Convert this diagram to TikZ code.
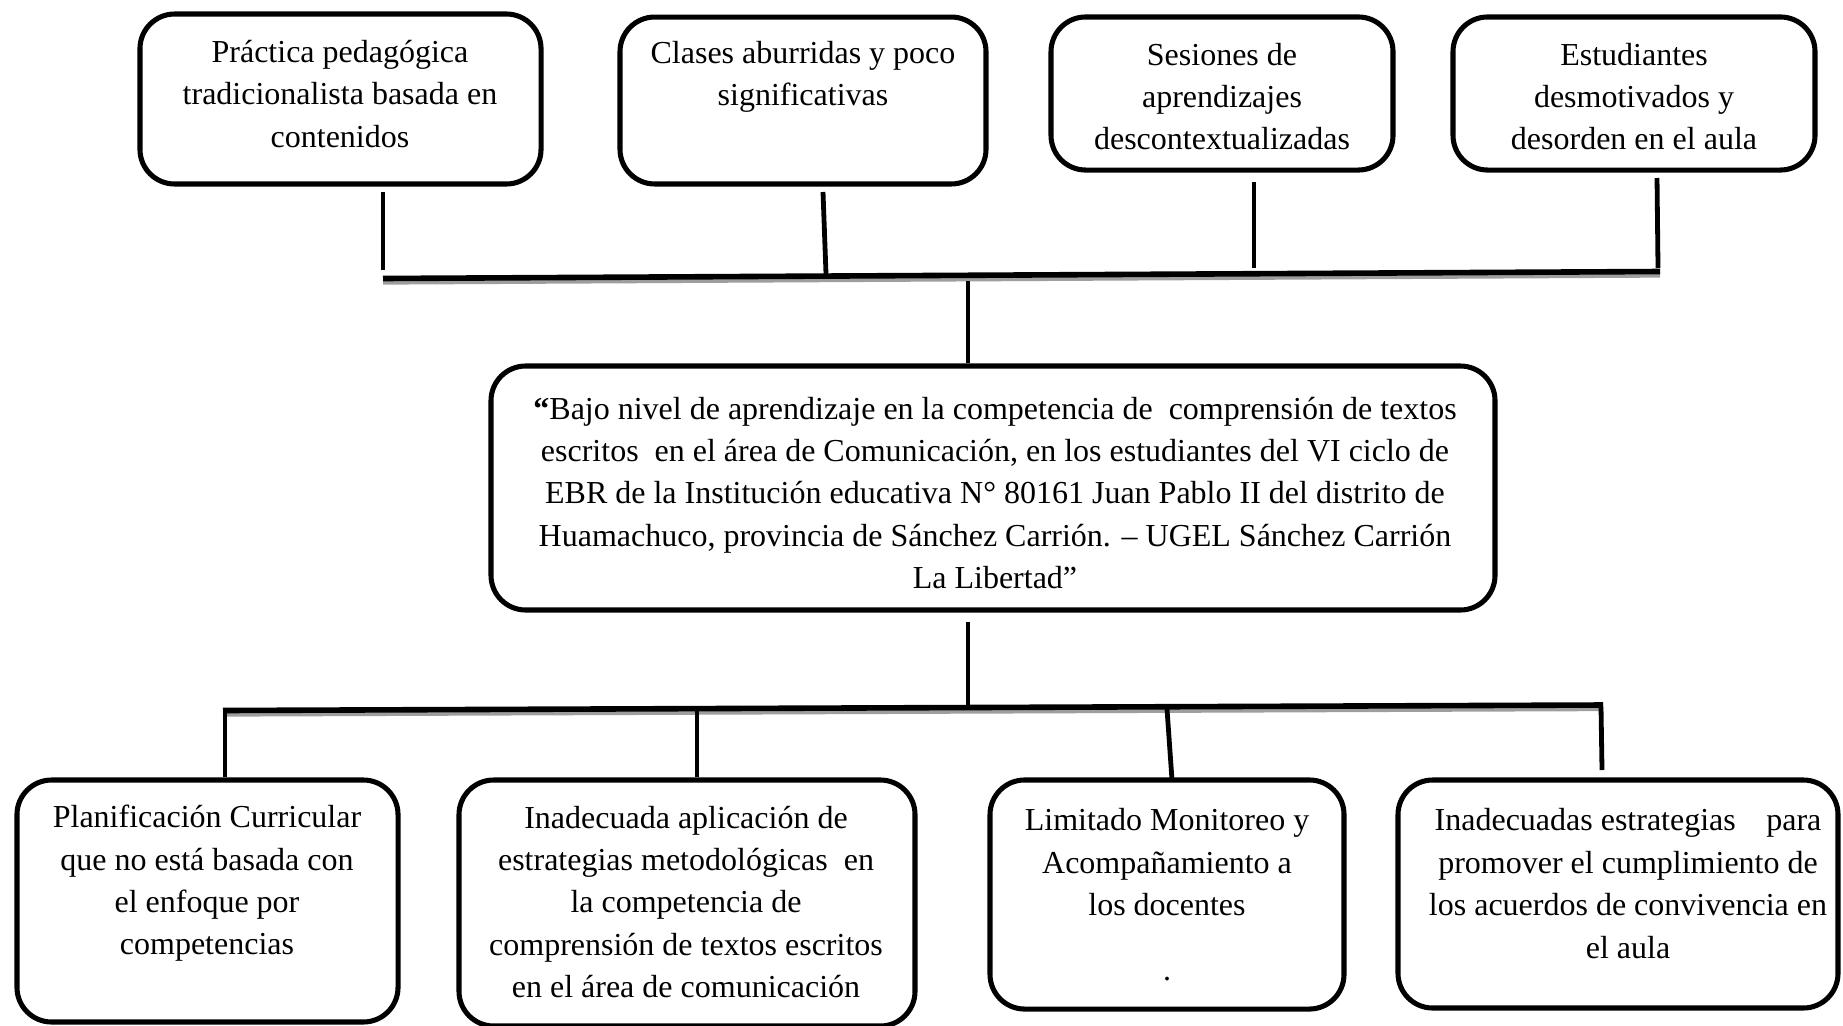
\documentclass[tikz,border=0pt]{standalone}
\usepackage{fontspec}
\setmainfont{Liberation Serif}
\begin{document}
\begin{tikzpicture}[x=0.375pt,y=-0.375pt,
 box/.style={draw=black,line width=1.9pt,rounded corners=13pt,inner sep=0pt},
 txt/.style={inner sep=0pt,align=center,font=\fontsize{12}{15.9}\selectfont},
 conn/.style={line width=1.8pt,black},
 bus/.style={line width=2.1pt,black},
 busshadow/.style={line width=2.2pt,black!38}]
\useasboundingbox (0,0) rectangle (1843,1025);

% top boxes
\node[box,minimum width=150.4pt,minimum height=63.75pt] (t1) at (340.5,99) {};
\node[box,minimum width=137.25pt,minimum height=62.6pt] (t2) at (803,100.5) {};
\node[box,minimum width=128.25pt,minimum height=57.4pt] (t3) at (1222,93.5) {};
\node[box,minimum width=135.75pt,minimum height=57.4pt] (t4) at (1634,93.5) {};
\node[txt] (t1txt) at (340,94) {Práctica pedagógica\\tradicionalista basada en\\contenidos};
\node[txt] (t2txt) at (803,77) {Clases aburridas y poco\\significativas};
\node[txt] (t3txt) at (1222,96.5) {Sesiones de\\aprendizajes\\descontextualizadas};
\node[txt] (t4txt) at (1634,96.5) {Estudiantes\\desmotivados y\\desorden en el aula};

% central box
\node[box,minimum width=376.5pt,minimum height=91.5pt] (c) at (993,488) {};
\node[txt] (ctxt) at (995,493) {\textbf{“}Bajo nivel de aprendizaje en la competencia de\ \ comprensión de textos\\escritos\ \ en el área de Comunicación, en los estudiantes del VI ciclo de\\EBR de la Institución educativa N° 80161 Juan Pablo II del distrito de\\Huamachuco, provincia de Sánchez Carrión. – UGEL Sánchez Carrión\\La Libertad”};

% bottom boxes
\node[box,minimum width=142.9pt,minimum height=90.75pt] (b1) at (207.5,901) {};
\node[box,minimum width=171pt,minimum height=92.25pt] (b2) at (687,903) {};
\node[box,minimum width=132.75pt,minimum height=85.9pt] (b3) at (1167,894.5) {};
\node[box,minimum width=165pt,minimum height=85.5pt] (b4) at (1618,894) {};
\node[txt] (b1txt) at (207,883.5) {Planificación Curricular\\que no está basada con\\el enfoque por\\competencias};
\node[txt] (b2txt) at (686,902) {Inadecuada aplicación de\\estrategias metodológicas\ \ en\\la competencia de\\comprensión de textos escritos\\en el área de comunicación};
\node[txt] (b3txt) at (1167,895) {Limitado Monitoreo y\\Acompañamiento a\\los docentes\\[8.6pt].};
\node[txt] (b4txt) at (1628,883.5) {\makebox[145pt]{Inadecuadas estrategias\hfill para}\\promover el cumplimiento de\\los acuerdos de convivencia en\\el aula};

% top bus
\coordinate (tbl) at (383,278.5);
\coordinate (tbr) at (1660,271.5);
\draw[busshadow] ([yshift=-1.2pt]tbl) -- ([yshift=-1.2pt]tbr);
\draw[bus] (tbl) -- (tbr);
\coordinate (u1a) at (383,192);  \coordinate (u1b) at (383,270);
\coordinate (u2a) at (823,192);  \coordinate (u2b) at (826,274);
\coordinate (u3a) at (1254,182); \coordinate (u3b) at (1254,268);
\coordinate (u4a) at (1657,178); \coordinate (u4b) at (1658,268);
\draw[conn] (u1a) -- (u1b);
\draw[conn] (u2a) -- (u2b);
\draw[conn] (u3a) -- (u3b);
\draw[conn] (u4a) -- (u4b);
\coordinate (tbc) at (968,281);
\draw[conn] (tbc) -- (c.north -| tbc);

% bottom bus
\coordinate (bbl) at (223,710.5);
\coordinate (bbr) at (1603,705);
\draw[busshadow] ([yshift=-1.2pt]bbl) -- ([yshift=-1.2pt]bbr);
\draw[bus] (bbl) -- (bbr);
\coordinate (cdown) at (968,622);
\coordinate (cdownb) at (968,708);
\draw[conn] (cdown) -- (cdownb);
\coordinate (d1a) at (225,712); \coordinate (d2a) at (697,711);
\coordinate (d3a) at (1167,709); \coordinate (d4a) at (1601,707);
\coordinate (d3b) at (1172,780); \coordinate (d4b) at (1602,770);
\draw[conn] (d1a) -- (b1.north -| d1a);
\draw[conn] (d2a) -- (b2.north -| d2a);
\draw[conn] (d3a) -- (d3b);
\draw[conn] (d4a) -- (d4b);
\end{tikzpicture}
\end{document}
